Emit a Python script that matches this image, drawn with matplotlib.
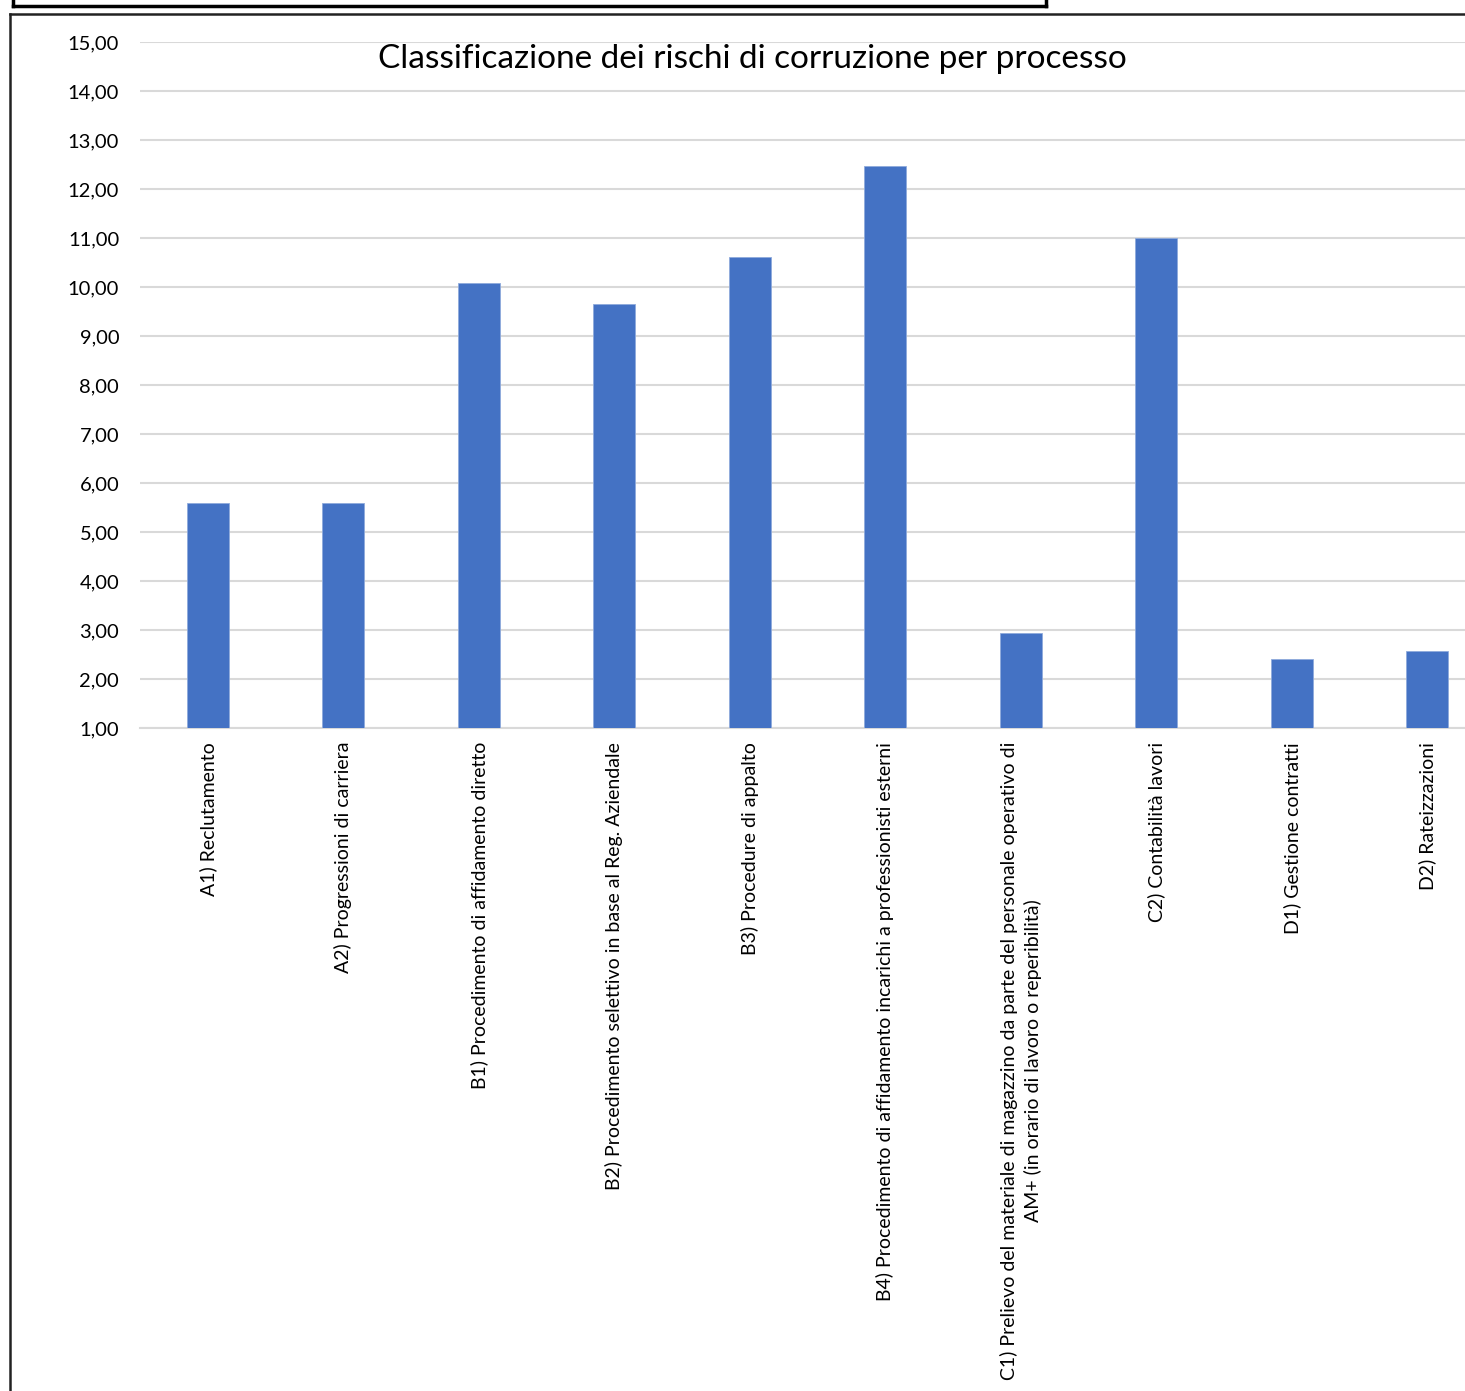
import matplotlib
matplotlib.use("Agg")
import matplotlib.pyplot as plt
from matplotlib.lines import Line2D

plt.rcParams['font.family'] = ['Lato', 'DejaVu Sans']

categories = [
    "A1) Reclutamento",
    "A2) Progressioni di carriera",
    "B1) Procedimento di affidamento diretto",
    "B2) Procedimento selettivo in base al Reg. Aziendale",
    "B3) Procedure di appalto",
    "B4) Procedimento di affidamento incarichi a professionisti esterni",
    "C1) Prelievo del materiale di magazzino da parte del personale operativo di\nAM+ (in orario di lavoro o reperibilità)",
    "C2) Contabilità lavori",
    "D1) Gestione contratti",
    "D2) Rateizzazioni",
]
values = [5.59, 5.59, 10.08, 9.66, 10.62, 12.46, 2.93, 11.0, 2.40, 2.58]
yticks = list(range(1, 16))
ytick_labels = [f"{v},00" for v in yticks]
title = "Classificazione dei rischi di corruzione per processo"

W, H = 1465, 1391
fig = plt.figure(figsize=(W / 100, H / 100), dpi=100)
fig.patch.set_facecolor("white")

left, right = 140 / W, 1495 / W
bottom, top = 1 - 728 / H, 1 - 42 / H
ax = fig.add_axes([left, bottom, right - left, top - bottom])

x = list(range(len(categories)))
ax.bar(x, [v - 1 for v in values], bottom=1, width=0.31, color="#4472C4",
       edgecolor="#8FAADC", linewidth=0.6, zorder=3)

ax.set_xlim(-0.5, len(categories) - 0.5)
ax.set_ylim(1, 15)
ax.set_yticks(yticks)
ax.set_yticklabels(ytick_labels, fontsize=14.5, color="#000000")
ax.yaxis.grid(True, color="#d9d9d9", linewidth=1.5, zorder=0)
ax.set_axisbelow(True)
ax.tick_params(axis="both", length=0)
ax.tick_params(axis="y", pad=15)
ax.set_xticks(x)
ax.set_xticklabels(categories, rotation=90, fontsize=14, ha="center", va="top",
                   multialignment="center", linespacing=1.4)
ax.tick_params(axis="x", pad=10)
for s in ["top", "right", "left"]:
    ax.spines[s].set_visible(False)
ax.spines["bottom"].set_color("#d9d9d9")
ax.spines["bottom"].set_linewidth(1.5)

fig.text(752 / W, 1 - 59 / H, title, fontsize=24, ha="center", va="center")

# frames
def fx(px):
    return px / W

def fy(py):
    return 1 - py / H

# upper box (cropped)
fig.add_artist(Line2D([fx(13), fx(1046)], [fy(6), fy(6)], color="black", lw=2.5))
fig.add_artist(Line2D([fx(13), fx(13)], [fy(0), fy(6)], color="black", lw=2.5))
fig.add_artist(Line2D([fx(1046), fx(1046)], [fy(0), fy(6)], color="black", lw=2.5))
# chart frame
fig.add_artist(Line2D([fx(10), fx(1465)], [fy(14), fy(14)], color="#222222", lw=1.8))
fig.add_artist(Line2D([fx(10), fx(10)], [fy(14), fy(1391)], color="#222222", lw=1.8))

fig.savefig("out.png", dpi=100)
